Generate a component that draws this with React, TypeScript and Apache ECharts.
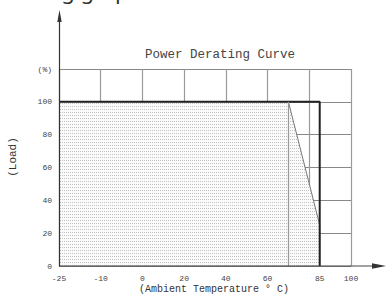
import React, { useEffect, useRef } from "react";
import * as echarts from "echarts";

// temperatures sitting on the equally spaced vertical grid lines
const gridTemps = [-25, -10, 0, 20, 40, 60, 80, 100];
// temperatures that carry a label on the x axis
const labelTemps = [-25, -10, 0, 20, 40, 60, 85, 100];
// load tick values (%); the top line (120) carries the unit label
const loadTicks = [0, 20, 40, 60, 80, 100, 120];
// derating curve
const curveTemps = [-25, 70, 85, 85];
const curveLoads = [100, 100, 25, 0];
// rated operating box (bold outline)
const boxTemps = [-25, 85, 85];
const boxLoads = [100, 100, 0];
const derateStartTemp = 70;

const titleText = "Power Derating Curve";
const xName = "(Ambient Temperature \u00b0 C)";
const yName = "(Load)";
const unitLabel = "(%)";
const headerText = "ing graph";

// map temperature to grid position (piecewise linear between grid lines)
function pos(t: number): number {
  for (let i = 0; i < gridTemps.length - 1; i++) {
    const a = gridTemps[i];
    const b = gridTemps[i + 1];
    if (t <= b || i === gridTemps.length - 2) {
      return i + (t - a) / (b - a);
    }
  }
  return gridTemps.length - 1;
}

function makeDots(): string {
  const c = document.createElement("canvas");
  c.width = 4;
  c.height = 3;
  const ctx = c.getContext("2d");
  if (ctx) {
    ctx.fillStyle = "#fbfbfb";
    ctx.fillRect(0, 0, 4, 3);
    ctx.fillStyle = "#c2c2c2";
    ctx.fillRect(0, 1, 1, 1);
    ctx.fillRect(2, 1, 1, 1);
  }
  return c.toDataURL();
}

const FONT = "'Liberation Mono', 'DejaVu Sans Mono', monospace";

export default function App() {
  const ref = useRef<HTMLDivElement>(null);
  useEffect(() => {
    if (!ref.current) return;
    const chart = echarts.init(ref.current, null, { renderer: "svg" });
    const labelPos = labelTemps.map(pos);
    const dots = makeDots();
    chart.setOption({
      animation: false,
      backgroundColor: "#ffffff",
      title: {
        text: titleText,
        left: 140,
        top: 43,
        textStyle: { fontFamily: FONT, fontSize: 12.5, fontWeight: "normal", color: "#444" },
      },
      grid: { left: 59, top: 69, width: 292, height: 197 },
      xAxis: {
        type: "value",
        min: 0,
        max: gridTemps.length - 1,
        interval: 1,
        axisLine: { show: false },
        axisTick: { show: false },
        splitLine: { show: true, lineStyle: { color: "#9a9a9a", width: 1.2 } },
        axisLabel: {
          customValues: labelPos,
          margin: 8,
          fontFamily: FONT,
          fontSize: 8,
          color: "#444",
          formatter: (v: number) => {
            let best = 0;
            labelPos.forEach((p, i) => {
              if (Math.abs(p - v) < Math.abs(labelPos[best] - v)) best = i;
            });
            return String(labelTemps[best]);
          },
        },
      },
      yAxis: {
        type: "value",
        min: 0,
        max: loadTicks[loadTicks.length - 1],
        interval: 20,
        axisLine: { show: false },
        axisTick: { show: false },
        splitLine: { show: true, lineStyle: { color: "#888", width: 1.2 } },
        axisLabel: {
          margin: 7,
          fontFamily: FONT,
          fontSize: 8,
          color: "#444",
          formatter: (v: number) => (v === loadTicks[loadTicks.length - 1] ? unitLabel : String(v)),
        },
      },
      series: [
        {
          type: "line",
          name: "curve",
          symbol: "none",
          data: curveTemps.map((t, i) => [pos(t), curveLoads[i]]),
          lineStyle: { color: "#777", width: 1 },
          areaStyle: {
            color: { image: dots, repeat: "repeat", imageWidth: 4, imageHeight: 3 } as any,
            opacity: 1,
          },
          markLine: {
            silent: true,
            symbol: "none",
            label: { show: false },
            lineStyle: { color: "#999", width: 1.2, type: "solid" },
            data: [[{ coord: [pos(derateStartTemp), 0] }, { coord: [pos(derateStartTemp), 100] }]],
          },
          z: 3,
        },
        {
          type: "line",
          name: "rated",
          symbol: "none",
          data: boxTemps.map((t, i) => [pos(t), boxLoads[i]]),
          lineStyle: { color: "#222", width: 2 },
          z: 4,
        },
      ],
      graphic: [
        {
          type: "text",
          x: 42,
          y: -21,
          style: {
            text: headerText,
            font: "22px 'Noto Sans'",
            fill: "#333",
            verticalAlign: "top",
          },
        },
        {
          type: "line",
          shape: { x1: 59.5, y1: 266.5, x2: 59.5, y2: 16 },
          style: { stroke: "#333", lineWidth: 1.2 },
          z: 10,
        },
        {
          type: "polygon",
          shape: { points: [[59.5, 10], [57.3, 22], [61.7, 22]] },
          style: { fill: "#333" },
          z: 10,
        },
        {
          type: "line",
          shape: { x1: 59, y1: 266, x2: 376, y2: 266 },
          style: { stroke: "#444", lineWidth: 1.2 },
          z: 10,
        },
        {
          type: "polygon",
          shape: { points: [[386, 266], [372, 263.3], [372, 268.7]] },
          style: { fill: "#333" },
          z: 10,
        },
        {
          type: "text",
          x: 214,
          y: 289,
          style: {
            text: xName,
            font: "10px " + FONT,
            fill: "#333",
            align: "center",
            verticalAlign: "middle",
          },
        },
        {
          type: "text",
          x: 13,
          y: 157,
          rotation: Math.PI / 2,
          style: {
            text: yName,
            font: "11px " + FONT,
            fill: "#333",
            align: "center",
            verticalAlign: "middle",
          },
        },
      ],
    });
    return () => chart.dispose();
  }, []);
  return (
    <div
      ref={ref}
      style={{ position: "fixed", left: 0, top: 0, width: 386, height: 304 }}
    />
  );
}
